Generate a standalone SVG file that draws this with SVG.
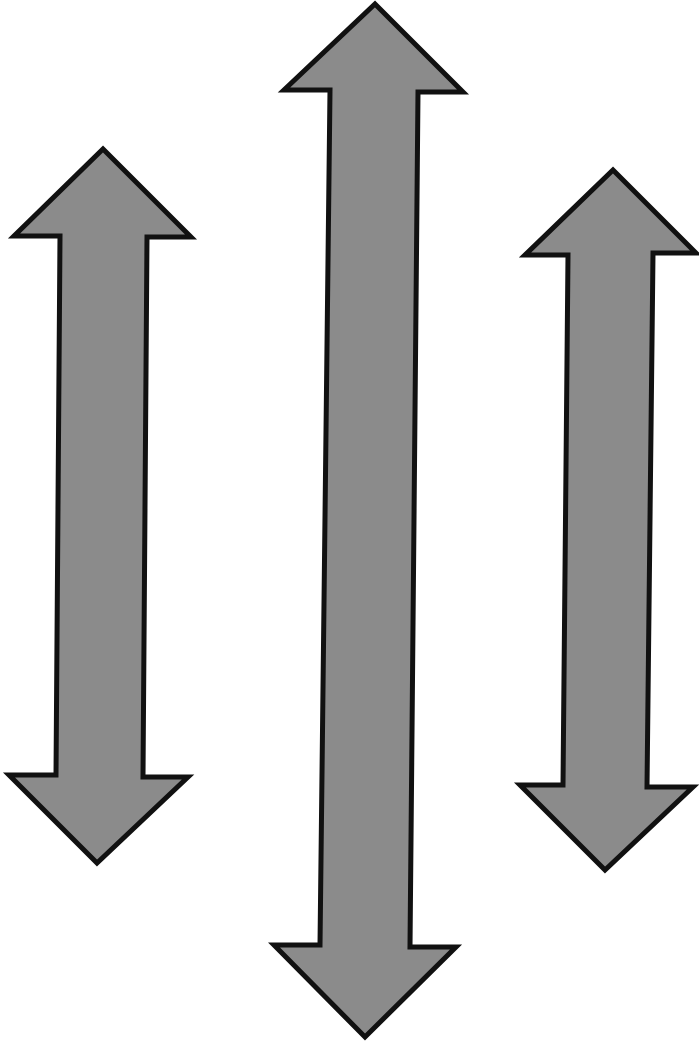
<svg xmlns="http://www.w3.org/2000/svg" width="699" height="1043" viewBox="0 0 699 1043">
  <style>
    .arrow { fill: #8b8b8b; stroke: #111; stroke-width: 5; stroke-linejoin: miter; stroke-miterlimit: 10; }
  </style>
  <rect width="699" height="1043" fill="#ffffff"/>
  <g id="arrow-left">
    <polygon class="arrow" points="103,149 191,237 147,237 143,777 188,777 97,863 9,775 56,775 60,236 14,236"/>
  </g>
  <g id="arrow-middle">
    <polygon class="arrow" points="375,4 463,92 418,92 410,947 456,947 365,1037 274,945 320,945 330,90 284,90"/>
  </g>
  <g id="arrow-right">
    <polygon class="arrow" points="613,170 696,253 653,253 647,787 693,787 605,870 520,785 563,785 568,255 525,255"/>
  </g>
</svg>
